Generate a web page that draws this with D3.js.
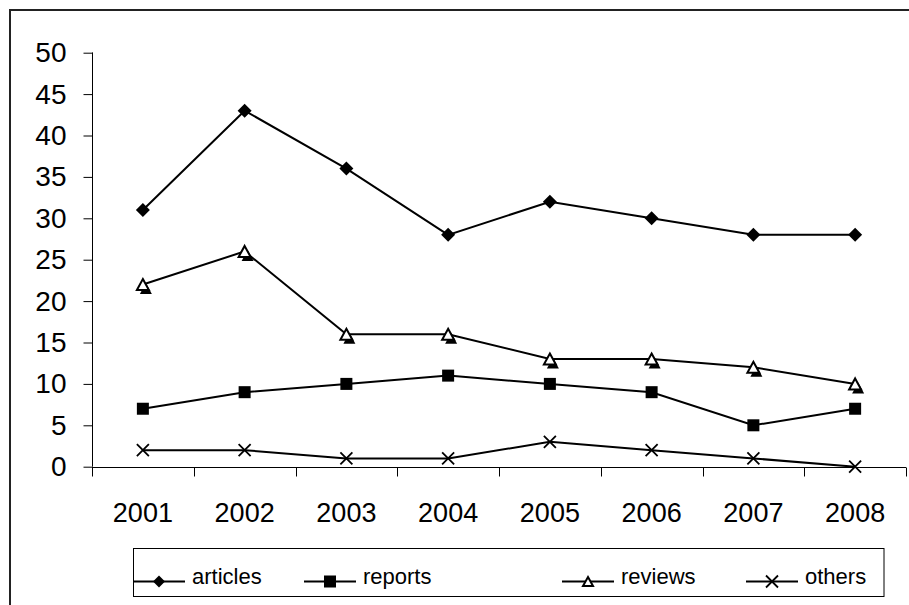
<!DOCTYPE html>
<html>
<head>
<meta charset="utf-8">
<script src="https://cdn.jsdelivr.net/npm/d3@7"></script>
<style>
  html, body { margin: 0; padding: 0; background: #fff; }
  svg { display: block; font-family: "Liberation Sans", Arial, sans-serif; }
</style>
</head>
<body>
<svg id="chart" width="909" height="605"></svg>
<script>
// Publications per year, by type
const years = ["2001", "2002", "2003", "2004", "2005", "2006", "2007", "2008"];
const articles = [31, 43, 36, 28, 32, 30, 28, 28];
const reports  = [7, 9, 10, 11, 10, 9, 5, 7];
const reviews  = [22, 26, 16, 16, 13, 13, 12, 10];
const others   = [2, 2, 1, 1, 3, 2, 1, 0];
const yTicks   = [0, 5, 10, 15, 20, 25, 30, 35, 40, 45, 50];
const seriesNames = ["articles", "reports", "reviews", "others"];

const series = [
  { name: seriesNames[0], values: articles, marker: "diamond" },
  { name: seriesNames[1], values: reports,  marker: "square" },
  { name: seriesNames[2], values: reviews,  marker: "triangle" },
  { name: seriesNames[3], values: others,   marker: "cross" }
];

const svg = d3.select("#chart");

// outer frame (runs off the right and bottom of the canvas)
svg.append("rect")
  .attr("x", 10).attr("y", 10)
  .attr("width", 1000).attr("height", 700)
  .attr("fill", "none").attr("stroke", "#222").attr("stroke-width", 2);

const plot = { left: 92, right: 906, top: 52.7, bottom: 466.7 };

const x = d3.scaleBand().domain(years).range([plot.left, plot.right]).padding(0);
const y = d3.scaleLinear().domain([0, 50]).range([plot.bottom, plot.top]);

// y axis
const yAxis = d3.axisLeft(y).tickValues(yTicks).tickSize(9).tickPadding(17);
const gy = svg.append("g").attr("transform", `translate(${plot.left + 0.5},0)`).call(yAxis);
gy.select(".domain").attr("stroke", "#000").attr("d", `M-0.5,${plot.top}H0V${plot.bottom}`);
gy.selectAll(".tick line").attr("stroke", "#000");
gy.selectAll(".tick text")
  .attr("font-size", 28).attr("fill", "#000")
  .attr("font-family", "'Liberation Sans', Arial, sans-serif");

// x axis: labels centred in each category, ticks on category edges
const xAxis = d3.axisBottom(x).tickSize(0).tickPadding(35);
const gx = svg.append("g").attr("transform", `translate(0,${Math.round(plot.bottom) + 0.5})`).call(xAxis);
gx.select(".domain").remove();
gx.selectAll(".tick text")
  .attr("font-size", 27).attr("fill", "#000")
  .attr("font-family", "'Liberation Sans', Arial, sans-serif");

const baseY = Math.round(plot.bottom) + 0.5;
svg.append("line")
  .attr("x1", plot.left).attr("x2", plot.right)
  .attr("y1", baseY).attr("y2", baseY)
  .attr("stroke", "#000");
const edges = years.map(d => x(d)).concat([x(years[years.length - 1]) + x.bandwidth()]);
svg.append("g").selectAll("line").data(edges).join("line")
  .attr("x1", d => Math.round(d) + 0.5).attr("x2", d => Math.round(d) + 0.5)
  .attr("y1", baseY).attr("y2", baseY + 9)
  .attr("stroke", "#000");

// markers
function drawMarker(g, type, cx, cy, inLegend) {
  if (type === "diamond") {
    const r = inLegend ? 6 : 7;
    g.append("path")
      .attr("d", `M${cx},${cy - r}L${cx + r},${cy}L${cx},${cy + r}L${cx - r},${cy}Z`)
      .attr("fill", "#000");
  } else if (type === "square") {
    const s = 12;
    g.append("rect")
      .attr("x", cx - s / 2).attr("y", cy - s / 2)
      .attr("width", s).attr("height", s)
      .attr("fill", "#000");
  } else if (type === "triangle") {
    const h = inLegend ? 9 : 11, w = inLegend ? 10 : 12;
    if (!inLegend) {
      g.append("path")
        .attr("d", `M${cx + 3},${cy - h / 2 + 4}L${cx + 3 + w / 2},${cy + h / 2 + 4}L${cx + 3 - w / 2},${cy + h / 2 + 4}Z`)
        .attr("fill", "#000");
    }
    g.append("path")
      .attr("d", `M${cx},${cy - h / 2}L${cx + w / 2},${cy + h / 2}L${cx - w / 2},${cy + h / 2}Z`)
      .attr("fill", "#fff").attr("stroke", "#000").attr("stroke-width", 2)
      .attr("stroke-linejoin", "miter");
  } else if (type === "cross") {
    const r = 6;
    g.append("path")
      .attr("d", `M${cx - r},${cy - r}L${cx + r},${cy + r}M${cx + r},${cy - r}L${cx - r},${cy + r}`)
      .attr("stroke", "#000").attr("stroke-width", 1.8).attr("fill", "none");
  }
}

const line = d3.line()
  .x((d, i) => x(years[i]) + x.bandwidth() / 2)
  .y(d => y(d));

series.forEach(s => {
  const g = svg.append("g").attr("class", "series");
  g.append("path")
    .attr("d", line(s.values))
    .attr("fill", "none").attr("stroke", "#000").attr("stroke-width", 2);
  s.values.forEach((v, i) => {
    drawMarker(g, s.marker, x(years[i]) + x.bandwidth() / 2, y(v), false);
  });
});

// legend
const legend = svg.append("g");
legend.append("rect")
  .attr("x", 133.5).attr("y", 548.5).attr("width", 750.5).attr("height", 48)
  .attr("fill", "#fff").attr("stroke", "#000").attr("stroke-width", 1);

const legendX = [133, 304, 562, 746];
const legendY = 581.5;
series.forEach((s, i) => {
  const lx = legendX[i];
  legend.append("line")
    .attr("x1", lx).attr("x2", lx + 52)
    .attr("y1", legendY).attr("y2", legendY)
    .attr("stroke", "#000").attr("stroke-width", 2);
  drawMarker(legend, s.marker, lx + 26, legendY, true);
  legend.append("text")
    .attr("x", lx + 59).attr("y", legendY + 2)
    .attr("font-size", 22).attr("fill", "#000")
    .text(s.name);
});
</script>
</body>
</html>
